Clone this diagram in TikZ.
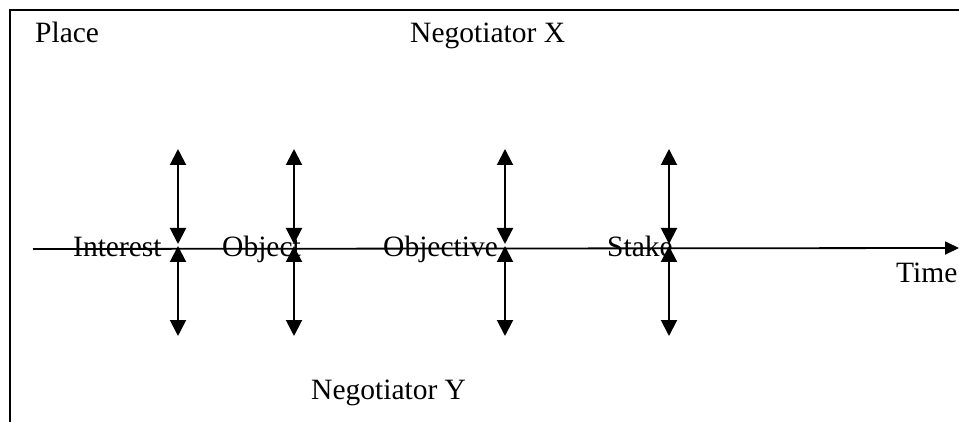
\documentclass[tikz,border=0pt]{standalone}
\usepackage{fontspec}
\setmainfont{Liberation Serif}
\usetikzlibrary{arrows.meta}
\begin{document}
\begin{tikzpicture}[x=1pt,y=-1pt,
  lbl/.style={inner sep=0pt,anchor=base west,font=\fontsize{29.5}{32}\selectfont},
  frame/.style={line width=1.5pt},
  axis/.style={line width=1.8pt,-{Triangle[length=14pt,width=13pt]}},
  darrow/.style={line width=2pt,{Triangle[length=16pt,width=16pt]}-{Triangle[length=16pt,width=16pt]}}]
\useasboundingbox (0,0) rectangle (959,422);
\draw[frame] (10,423) -- (10,10) -- (960,10);
\node[lbl] (place) at (35,43) {Place};
\node[lbl] (nx) at (410,43) {Negotiator X};
\node[lbl] (ny) at (311,399) {Negotiator Y};
\node[lbl] (time) at (896,283) {Time};
\coordinate (a0) at (33,249);
\coordinate (a1) at (959,248);
\draw[axis] (a0) -- (a1);
\node[lbl] (interest) at (73,257) {Interest};
\node[lbl] (object) at (222,257) {Object};
\node[lbl] (objective) at (383,257) {Objective};
\node[lbl] (stake) at (607,257) {Stake};
\foreach \n/\x in {i/178,o/294,ov/505,s/669}{
  \coordinate (\n t) at (\x,149);
  \coordinate (\n m) at (\x,244);
  \coordinate (\n n) at (\x,246);
  \coordinate (\n b) at (\x,336);
  \draw[darrow] (\n t) -- (\n m);
  \draw[darrow] (\n n) -- (\n b);
}
\end{tikzpicture}
\end{document}
